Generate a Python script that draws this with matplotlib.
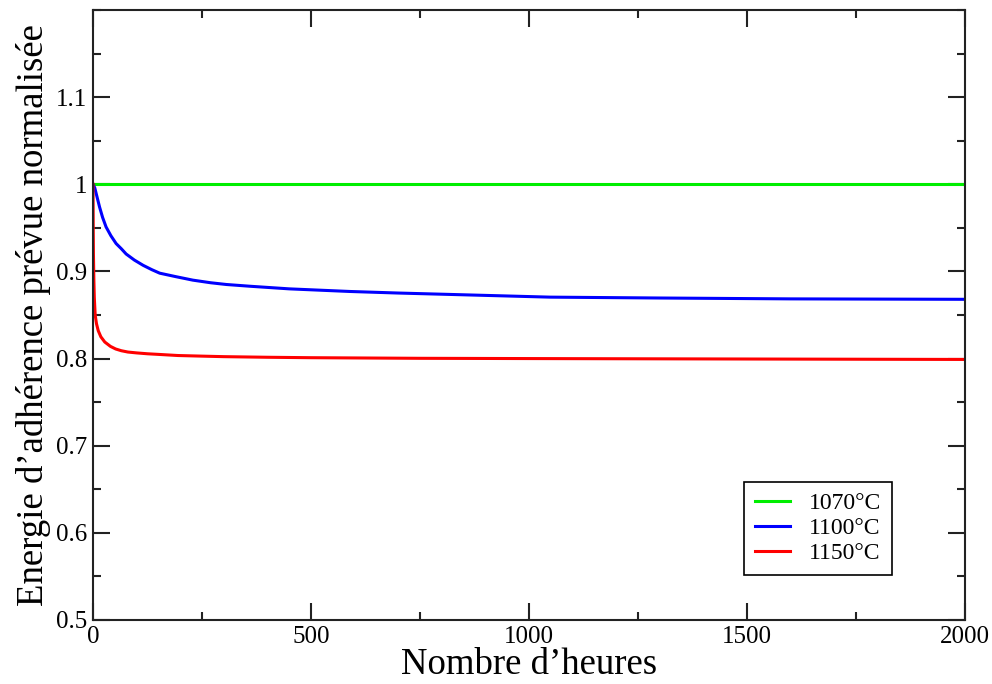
import matplotlib.pyplot as plt
from matplotlib.ticker import MultipleLocator

plt.rcParams['font.family'] = ['Liberation Serif', 'DejaVu Serif']

# hours and normalised adhesion energy
hours_1070 = [0, 2000]
energy_1070 = [1.0, 1.0]

hours_1100 = [0, 4, 9, 15, 22, 30, 41, 53, 65, 76, 95, 115, 135, 153, 190, 229, 270, 306, 360, 450, 589, 700, 819, 1048, 1300, 1600, 2000]
energy_1100 = [1.0, 0.996, 0.986, 0.974, 0.962, 0.951, 0.941, 0.932, 0.926, 0.920, 0.913, 0.907, 0.902, 0.898, 0.894, 0.890, 0.887, 0.885, 0.883, 0.880, 0.877, 0.8752, 0.8736, 0.8705, 0.8695, 0.8685, 0.868]

hours_1150 = [0, 0.5, 1, 2, 3, 5, 8, 12, 18, 27, 40, 52, 65, 80, 100, 125, 150, 195, 250, 300, 400, 500, 750, 1000, 1500, 2000]
energy_1150 = [1.0, 0.95, 0.92, 0.89, 0.87, 0.85, 0.84, 0.832, 0.825, 0.819, 0.814, 0.811, 0.809, 0.8075, 0.8065, 0.8055, 0.8048, 0.8035, 0.8028, 0.8022, 0.8015, 0.801, 0.8003, 0.800, 0.7995, 0.799]

labels = ['1070°C', '1100°C', '1150°C']
colors = ['#00ee00', '#0000ff', '#ff0000']

fig = plt.figure(figsize=(9.92, 6.84), dpi=100)
ax = fig.add_axes([93/992, 1 - 620/684, 872/992, 610/684])

ax.plot(hours_1070, energy_1070, color=colors[0], lw=2.2, label=labels[0])
ax.plot(hours_1100, energy_1100, color=colors[1], lw=2.2, label=labels[1])
ax.plot(hours_1150, energy_1150, color=colors[2], lw=2.2, label=labels[2])

ax.set_xlim(0, 2000)
ax.set_ylim(0.5, 1.2)
ax.xaxis.set_major_locator(MultipleLocator(500))
ax.xaxis.set_minor_locator(MultipleLocator(250))
ax.set_yticks([0.5, 0.6, 0.7, 0.8, 0.9, 1.0, 1.1])
ax.set_yticklabels(['0.5', '0.6', '0.7', '0.8', '0.9', '1', '1.1'])
ax.yaxis.set_minor_locator(MultipleLocator(0.05))

ax.tick_params(which='both', direction='in', top=True, right=True, width=1.5, color='#222222')
ax.tick_params(which='major', length=12, labelsize=18, pad=4)
ax.tick_params(which='minor', length=6)
for s in ax.spines.values():
    s.set_linewidth(1.5)
    s.set_color('#222222')

ax.set_xlabel('Nombre d’heures', fontsize=26.5, labelpad=0)
ax.set_ylabel('Energie d’adhérence prévue normalisée', fontsize=26.5, labelpad=4)

leg = ax.legend(loc='lower right', bbox_to_anchor=(0.916, 0.074), borderaxespad=0,
                fontsize=17, frameon=True, fancybox=False, edgecolor='black', framealpha=1,
                handlelength=1.5, borderpad=0.45, labelspacing=0.15, handletextpad=0.8)
leg.get_frame().set_linewidth(1.2)

fig.savefig('out.png', dpi=100)
